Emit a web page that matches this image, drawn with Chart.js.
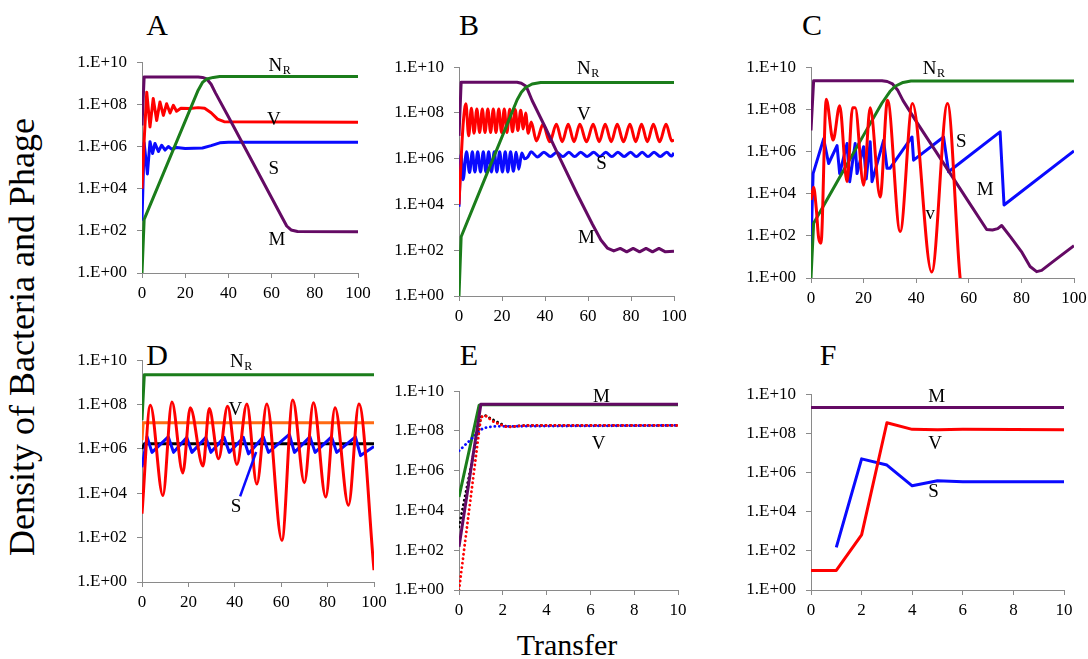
<!DOCTYPE html>
<html>
<head>
<meta charset="utf-8">
<script src="https://cdn.jsdelivr.net/npm/chart.js@4.4.0/dist/chart.umd.min.js"></script>
<style>
  body { margin: 0; background: #fff; width: 1088px; height: 659px; position: relative; overflow: hidden;
         font-family: "Liberation Serif", "Times New Roman", serif; }
  canvas { position: absolute; }
  .txt { position: absolute; transform: translate(-50%, -50%); line-height: 1; white-space: nowrap; color: #000; }
  .letter { font-size: 30px; }
  #ytitle { font-size: 36px; transform: translate(-50%, -50%) rotate(-90deg); }
  #xtitle { font-size: 30px; }
</style>
</head>
<body>
<div class="txt letter" style="left:157px;top:25px">A</div>
<div class="txt letter" style="left:469px;top:25px">B</div>
<div class="txt letter" style="left:812px;top:25px">C</div>
<div class="txt letter" style="left:157px;top:355px">D</div>
<div class="txt letter" style="left:469px;top:355px">E</div>
<div class="txt letter" style="left:828px;top:355px">F</div>
<div id="ytitle" class="txt" style="left:22px;top:337px">Density of Bacteria and Phage</div>
<div id="xtitle" class="txt" style="left:567px;top:645px">Transfer</div>
<script>
// colours
const GREEN = '#1b7d1b', PURPLE = '#640a64', RED = '#ff0000', BLUE = '#0a0aff', ORANGE = '#ff6a13', BLACK = '#000000';

const Y_TICKS = [1, 1e2, 1e4, 1e6, 1e8, 1e10];
const X_TICKS_LONG = [0, 20, 40, 60, 80, 100];
const X_TICKS_SHORT = [0, 2, 4, 6, 8, 10];

// ---- A ----
const aM = [[0,1e7],[1,2e9],[26,2e9],[28,1.9e9],[30,1.6e9],[32,9e8],[34,3.5e8],[40,2.6e7],[50,3.1e5],[60,3.7e3],[65,4.1e2],[67,1.7e2],[69,1.1e2],[72,9.3e1],[100,9e1]];
const aNR = [[0,1],[1,3.5e2],[10,5.6e4],[20,1.6e7],[26,4.7e8],[28,1.1e9],[30,1.6e9],[33,1.9e9],[36,2.1e9],[100,2.1e9]];
const aV = [[0,1e4],[1,2e6],[2.2,3.8e8],[3.7,8.5e6],[5.2,1.9e8],[6.8,1.7e7],[8.3,1.3e8],[9.9,3e7],[11.4,1.07e8],[13,3.9e7],[14.5,9e7],[16,4.7e7],[18,6.5e7],[22,6.3e7],[26,7e7],[29,6.5e7],[32,4e7],[35,2e7],[38,1.5e7],[100,1.4e7]];
const aS = [[0,3e2],[1,1.5e6],[2.5,5e4],[3.7,1.7e6],[4.9,4.7e5],[6,1.4e6],[7.6,5.8e5],[9.1,1.15e6],[10.7,6.8e5],[12.2,1e6],[13.7,7.5e5],[16,9e5],[20,8e5],[28,8.5e5],[32,1.1e6],[36,1.5e6],[40,1.6e6],[100,1.6e6]];

// ---- B ----
const bM = [[0,1e7],[1,2.2e9],[27,2.2e9],[29,2e9],[31,1.5e9],[32,1e9],[34,3.5e8],[40,2.5e7],[46,1.6e6],[55,2.8e4],[62,1.4e3],[66,2.8e2],[69,1.25e2],[72,9.3e1],[75,1.2e2],[78,8.5e1],[81,1.2e2],[84,8.5e1],[87,1.2e2],[90,8.5e1],[93,1.2e2],[96,8.5e1],[100,9e1]];
const bNR = [[0,1],[1,3.9e2],[10,4.6e4],[20,9e6],[27,3.7e8],[29,8e8],[31,1.3e9],[34,1.85e9],[38,2.15e9],[100,2.15e9]];
const bV = [[0,1e4],[1,1e6],[2,4e7],[3.2,2.5e8],[4.5,1e7],[5.75,1.6e8],[7,1.3e7],[8.3,1.5e8],[9.6,1.4e7],[10.85,1.5e8],[12.1,1.4e7],[13.4,1.5e8],[14.7,1.4e7],[15.95,1.5e8],[17.2,1.4e7],[18.5,1.5e8],[19.8,1.4e7],[21.05,1.5e8],[22.3,1.4e7],[23.6,1.45e8],[24.9,1.5e7],[26.15,1.4e8],[27.4,1.7e7],[28.7,1.3e8],[29.9,2e7],[31,1e8],[32.2,1.3e7],[33.6,4e7],[36,6e6],[39.1,3.2e7],[42.2,5.5e6],[45.3,3.2e7],[48,5.5e6],[50.8,3.2e7],[53.5,5.5e6],[56.2,3.2e7],[59.3,5.5e6],[62.4,3.2e7],[65.2,5.5e6],[68,3.2e7],[70.8,5.5e6],[73.6,3.2e7],[76.5,5.5e6],[79.5,3.2e7],[82.2,5.5e6],[84.9,3.2e7],[87.6,5.5e6],[90.4,3.2e7],[93.3,5.5e6],[96.3,3.2e7],[99,6e6],[100,6.5e6]];
const bS = [[0,8e3],[1,1.5e6],[1.9,1.2e5],[3.5,2e6],[4.9,2.5e5],[6.2,2e6],[7.4,2.6e5],[8.7,2e6],[10,2.6e5],[11.3,2e6],[12.5,2.6e5],[13.8,2e6],[15.1,2.6e5],[16.4,2e6],[17.6,2.6e5],[18.9,2e6],[20.2,2.6e5],[21.5,2e6],[22.7,2.6e5],[24,2e6],[25.3,2.8e5],[26.6,1.9e6],[27.8,3.5e5],[29.2,1.8e6],[30.5,1e6],[32,1.2e6],[33.5,2e6],[36.5,1.2e6],[39.5,1.9e6],[42.5,1.25e6],[45.5,1.9e6],[48.3,1.25e6],[51.1,1.9e6],[53.8,1.25e6],[56.6,1.9e6],[59.6,1.25e6],[62.7,1.9e6],[65.5,1.25e6],[68.3,1.9e6],[71.1,1.25e6],[73.9,1.9e6],[76.8,1.25e6],[79.8,1.9e6],[82.5,1.25e6],[85.2,1.9e6],[87.9,1.25e6],[90.7,1.9e6],[93.6,1.25e6],[96.6,1.9e6],[98.8,1.3e6],[100,1.8e6]];

// ---- C ----
const cM = [[0,1e7],[1,2.3e9],[27,2.3e9],[29,2.1e9],[31,1.6e9],[33,8e8],[35,2.6e8],[40,2.7e7],[50,3.3e5],[60,4e3],[66.8,2e2],[69,1.9e2],[71,2.2e2],[72.5,3.1e2],[76,8.5e1],[80,1.8e1],[83.3,3.5],[85.8,2],[87.7,2.3],[92,6],[100,3.4e1]];
const cNR = [[0,1],[1,4e2],[10,3.8e4],[20,6e6],[27,2e8],[30,7e8],[32,1.25e9],[35,1.9e9],[38,2.2e9],[100,2.2e9]];
const cS = [[0,3e1],[0.8,9e4],[4.8,4e6],[6.7,2.7e5],[9.9,1.9e6],[10.9,9e4],[13.7,2.4e6],[14.7,3.7e4],[16.8,2.4e6],[17.5,9e4],[20,1.7e6],[21,5e4],[22.5,2.9e6],[23.2,3.7e4],[27.6,3.4e6],[28.9,1.6e5],[30,1.6e5],[38.4,4.9e6],[39,3.9e5],[50.4,4.9e6],[52.3,1.1e5],[71.9,8.5e6],[73.4,2.9e3],[100,1.07e6]];
const cV = [[0,5e3],[1,2e4],[2,2e3],[2.9,8e1],[3.8,4.5e1],[5.8,3e8],[8.4,3.5e6],[10.9,1.5e8],[13.7,3.7e4],[15.8,1.2e8],[16.8,1.2e8],[20,2.5e4],[22.5,1.2e8],[26.3,7e3],[29.1,2.7e8],[33.9,1.6e2],[38.6,1.9e8],[45.9,1.9],[51.9,1.9e8],[56.7,1],[58,0.1]];

// ---- D ----
const dNR = [[0,2e7],[1,2.2e9],[100,2.2e9]];
const dO = [[0,2.5e6],[0.5,1.5e7],[100,1.5e7]];
const dK = [[0,1e6],[1,1.7e6],[100,1.7e6]];
const dV = [[0,1.2e3],[3.6,9.3e7],[9,8e3],[12.9,1.3e8],[17.6,8.3e4],[20.8,7.2e7],[26.3,1.7e5],[29,6.6e7],[33,3.6e5],[36.9,8.3e7],[40.9,2e5],[45.2,1.05e8],[49.5,2.6e4],[53.8,1.05e8],[60.3,7.6e1],[65,1.6e8],[70,3e4],[73.9,1.2e8],[79.2,6.8e3],[83.2,7.2e7],[89,2.9e3],[93.5,1.05e8],[100,3.4]];
const dS = [[0,1.5e5],[2.2,3.5e6],[4.3,7e5],[11.3,3.5e6],[13.6,7e5],[19.3,3.3e6],[21.5,7e5],[27.5,3.3e6],[29.7,7e5],[35.4,3.3e6],[37.6,7e5],[43.7,3.3e6],[45.9,6e5],[52.3,3.5e6],[54.5,7e5],[63.5,4.5e6],[65.7,7e5],[72.4,3.5e6],[74.6,7e5],[81.7,3.5e6],[83.9,7e5],[92,3.5e6],[94.2,5e5],[100,1.3e6]];

// ---- E ----
const eM = [[0,1.5e2],[1,2.2e9],[10,2.2e9]];
const eNR = [[0,4.8e4],[0.92,2e9],[1,2.1e9],[10,2.1e9]];
const eK = [[0,1.5e3],[1,5e8],[1.2,6e8],[1.6,3.4e8],[2.2,1.6e8],[3,1.9e8],[10,1.9e8]];
const eV = [[0,1],[1,5e8],[1.2,6e8],[1.6,2.8e8],[2.2,1.55e8],[3,1.9e8],[10,1.9e8]];
const eS = [[0,1e7],[0.8,7e7],[1.1,1.4e8],[1.55,1.7e8],[10,1.9e8]];

// ---- F ----
const fM = [[0,2.1e9],[10,2.1e9]];
const fV = [[0,1e1],[1,1e1],[2,6.5e2],[3,3.5e8],[4,1.6e8],[5,1.55e8],[6,1.6e8],[10,1.55e8]];
const fS = [[1,1.5e2],[2,5e6],[3,2.4e6],[4,2.1e5],[5,3.8e5],[6,3.4e5],[10,3.4e5]];

// curve labels, anchored in data units
const aLabels = [['N',61.7,6.9e9,'R'],['V',61,1.9e7],['S',61,9e4],['M',62.5,3.7e1]];
const bLabels = [['N',58.1,8.5e9,'R'],['V',58.1,7.8e7],['S',66.3,5.7e5],['M',59.3,3.3e2]];
const cLabels = [['N',45.1,8.3e9,'R'],['S',57.1,2.9e6],['M',66.2,1.5e4],['v',45.3,1.1e3]];
const dLabels = [['N',40.9,8.3e9,'R'],['V',40.2,5.5e7],['S',40.5,2.4e3]];
const eLabels = [['M',6.5,5.4e9],['V',6.38,2.3e7]];
const fLabels = [['M',4.97,7.3e9],['V',4.91,2.8e7],['S',4.84,1e5]];
const dArrow = [[42.3,7.3e3],[49.2,7.3e5]];

const DOT = [0.1, 4.4];

// series listed top-most first (Chart.js draws index 0 last)
const panels = [
  { box: [142, 62, 358, 273], xTicks: X_TICKS_LONG, labels: aLabels, series: [
      { data: aNR, color: GREEN }, { data: aM, color: PURPLE }, { data: aV, color: RED }, { data: aS, color: BLUE } ] },
  { box: [459, 67, 674, 296], xTicks: X_TICKS_LONG, labels: bLabels, series: [
      { data: bNR, color: GREEN }, { data: bM, color: PURPLE }, { data: bV, color: RED, smooth: true }, { data: bS, color: BLUE, smooth: true } ] },
  { box: [811, 67, 1074, 278], xTicks: X_TICKS_LONG, labels: cLabels, series: [
      { data: cV, color: RED, smooth: true }, { data: cNR, color: GREEN }, { data: cM, color: PURPLE }, { data: cS, color: BLUE } ] },
  { box: [142, 360, 374, 582], xTicks: X_TICKS_LONG, labels: dLabels, arrow: dArrow, series: [
      { data: dV, color: RED, smooth: true }, { data: dS, color: BLUE }, { data: dK, color: BLACK }, { data: dO, color: ORANGE }, { data: dNR, color: GREEN } ] },
  { box: [459, 391, 678, 590], xTicks: X_TICKS_SHORT, labels: eLabels, series: [
      { data: eM, color: PURPLE }, { data: eV, color: RED, dash: DOT }, { data: eS, color: BLUE, dash: DOT },
      { data: eK, color: BLACK, dash: DOT }, { data: eNR, color: GREEN } ] },
  { box: [811, 394, 1064, 590], xTicks: X_TICKS_SHORT, labels: fLabels, series: [
      { data: fM, color: PURPLE }, { data: fV, color: RED }, { data: fS, color: BLUE } ] },
];

function expLabel(v) {
  const e = Math.round(Math.log10(v));
  return '1.E+' + String(e).padStart(2, '0');
}

function notesPlugin(p) {
  return {
    id: 'notes',
    afterDatasetsDraw(chart) {
      const { ctx, scales: { x, y } } = chart;
      ctx.save();
      if (p.arrow) {
        ctx.strokeStyle = BLUE;
        ctx.lineWidth = 2.5;
        ctx.beginPath();
        ctx.moveTo(x.getPixelForValue(p.arrow[0][0]), y.getPixelForValue(p.arrow[0][1]));
        ctx.lineTo(x.getPixelForValue(p.arrow[1][0]), y.getPixelForValue(p.arrow[1][1]));
        ctx.stroke();
      }
      ctx.fillStyle = '#000';
      ctx.textBaseline = 'middle';
      p.labels.forEach(([text, vx, vy, sub]) => {
        const px = x.getPixelForValue(vx), py = y.getPixelForValue(vy);
        ctx.font = '19px "Liberation Serif"';
        ctx.textAlign = 'center';
        ctx.fillText(text, px, py);
        if (sub) {
          const w = ctx.measureText(text).width;
          ctx.font = '12px "Liberation Serif"';
          ctx.textAlign = 'left';
          ctx.fillText(sub, px + w / 2 + 0.5, py + 5);
        }
      });
      ctx.restore();
    }
  };
}

const PAD_L = 75, PAD_T = 10, PAD_R = 22, PAD_B = 32;
const SERIF = '"Liberation Serif", "Times New Roman", serif';
Chart.defaults.font.family = SERIF;
const tickFont = { family: SERIF, size: 17 };
const axisGrey = '#8a8a8a';

function buildChart(cv, p) {
  return new Chart(cv, {
    type: 'line',
    data: {
      datasets: p.series.map(s => ({
        data: s.data.map(([x, y]) => ({ x, y })),
        borderColor: s.color,
        borderWidth: s.dash ? 2.8 : 3,
        borderDash: s.dash || [],
        borderCapStyle: s.dash ? 'round' : 'butt',
        borderJoinStyle: 'round',
        cubicInterpolationMode: s.smooth ? 'monotone' : 'default',
        tension: 0,
        pointRadius: 0,
        fill: false
      }))
    },
    options: {
      responsive: false,
      maintainAspectRatio: false,
      animation: false,
      devicePixelRatio: 1,
      layout: { padding: { left: 0, top: PAD_T, right: PAD_R, bottom: 0 } },
      plugins: { legend: { display: false }, tooltip: { enabled: false } },
      scales: {
        x: {
          type: 'linear',
          min: p.xTicks[0],
          max: p.xTicks[p.xTicks.length - 1],
          afterBuildTicks: s => { s.ticks = p.xTicks.map(v => ({ value: v })); },
          afterFit: s => { s.height = PAD_B; },
          ticks: { font: tickFont, color: '#000', padding: 5, maxRotation: 0, autoSkip: false },
          grid: { drawOnChartArea: false, drawTicks: true, tickLength: 5, color: axisGrey },
          border: { color: axisGrey, width: 1 }
        },
        y: {
          type: 'logarithmic',
          min: 1,
          max: 1e10,
          afterBuildTicks: s => { s.ticks = Y_TICKS.map(v => ({ value: v })); },
          afterFit: s => { s.width = PAD_L; },
          ticks: { font: tickFont, color: '#000', padding: 10, autoSkip: false, callback: v => expLabel(v) },
          grid: { drawOnChartArea: false, drawTicks: true, tickLength: 5, color: axisGrey },
          border: { color: axisGrey, width: 1 }
        }
      }
    },
    plugins: [notesPlugin(p)]
  });
}

panels.forEach(p => {
  const [x0, y0, x1, y1] = p.box;
  const cv = document.createElement('canvas');
  cv.width = x1 - x0 + PAD_L + PAD_R;
  cv.height = y1 - y0 + PAD_T + PAD_B;
  document.body.appendChild(cv);

  // first pass: measure the plot area, then size the canvas so it matches the box
  let chart = buildChart(cv, p);
  let ca = chart.chartArea;
  const w = cv.width + (x1 - x0) - (ca.right - ca.left);
  const h = cv.height + (y1 - y0) - (ca.bottom - ca.top);
  chart.destroy();
  cv.width = w;
  cv.height = h;
  cv.style.width = w + 'px';
  cv.style.height = h + 'px';
  chart = buildChart(cv, p);
  ca = chart.chartArea;
  cv.style.left = (x0 - ca.left) + 'px';
  cv.style.top = (y0 - ca.top) + 'px';
});
</script>
</body>
</html>
